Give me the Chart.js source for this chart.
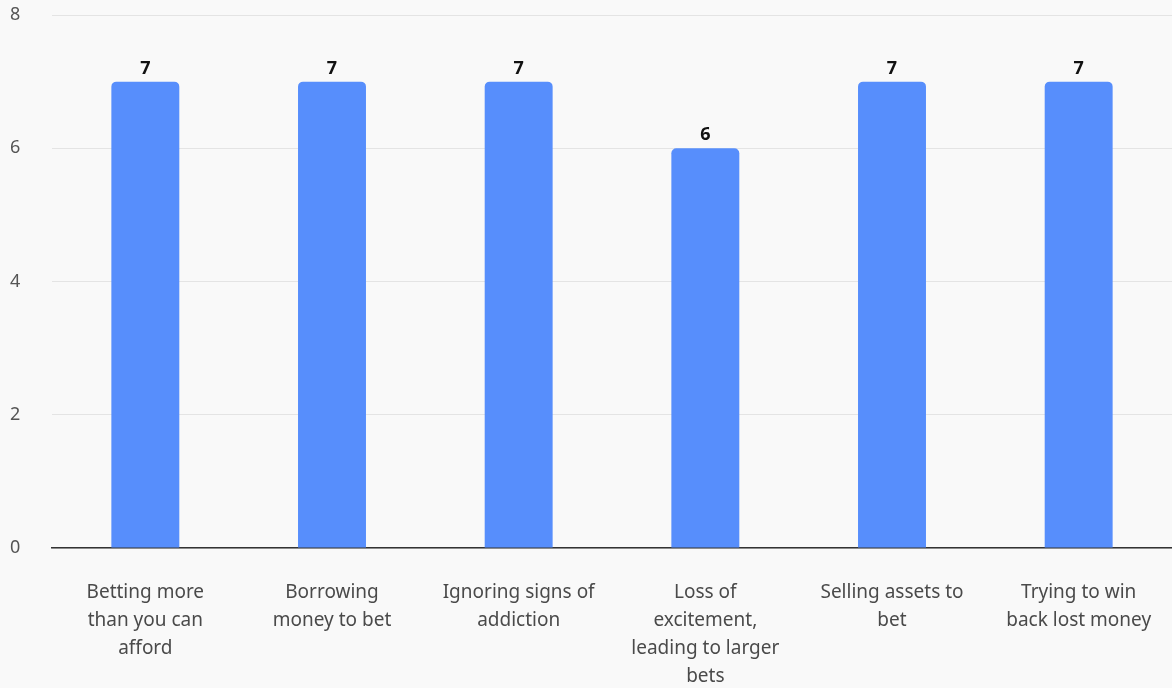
<!DOCTYPE html>
<html>
<head>
<meta charset="utf-8">
<script src="https://cdn.jsdelivr.net/npm/chart.js@4/dist/chart.umd.min.js"></script>
<style>
  html, body { margin: 0; padding: 0; background: #f9f9f9; }
  #wrap { width: 1172px; height: 688px; position: relative; }
</style>
</head>
<body>
<div id="wrap"><canvas id="c" width="1172" height="688"></canvas></div>
<script>
const categories = [
  ["Betting more", "than you can", "afford"],
  ["Borrowing", "money to bet"],
  ["Ignoring signs of", "addiction"],
  ["Loss of", "excitement,", "leading to larger", "bets"],
  ["Selling assets to", "bet"],
  ["Trying to win", "back lost money"]
];
const values = [7, 7, 7, 6, 7, 7];
const yTicks = [0, 2, 4, 6, 8];

const FONT = "'Source Sans Pro', 'Noto Sans', sans-serif";

const valueLabels = {
  id: 'valueLabels',
  afterDatasetsDraw(chart) {
    const ctx = chart.ctx;
    const meta = chart.getDatasetMeta(0);
    ctx.save();
    ctx.font = "bold 18px " + FONT;
    ctx.fillStyle = '#111';
    ctx.textAlign = 'center';
    ctx.textBaseline = 'bottom';
    meta.data.forEach((bar, i) => {
      ctx.fillText(String(values[i]), bar.x, bar.y - 4);
    });
    ctx.restore();
  }
};

new Chart(document.getElementById('c'), {
  type: 'bar',
  data: {
    labels: categories,
    datasets: [{
      data: values,
      backgroundColor: '#578efc',
      borderRadius: { topLeft: 5, topRight: 5, bottomLeft: 0, bottomRight: 0 },
      borderSkipped: 'bottom',
      barPercentage: 0.364,
      categoryPercentage: 1.0
    }]
  },
  options: {
    responsive: false,
    animation: false,
    layout: { padding: { left: 10, top: 15, right: 0, bottom: 0 } },
    plugins: { legend: { display: false }, tooltip: { enabled: false } },
    scales: {
      x: {
        grid: { display: false, drawTicks: false },
        border: { display: true, color: '#333', width: 1.5 },
        ticks: {
          font: { family: FONT, size: 19, lineHeight: 1.47 },
          color: '#4a4a4a',
          padding: 31,
          maxRotation: 0,
          autoSkip: false
        },
        afterFit(scale) { scale.height = 140; scale.paddingRight = 0; scale.paddingLeft = 0; }
      },
      y: {
        min: 0, max: 8,
        afterBuildTicks(scale) { scale.ticks = yTicks.map(v => ({ value: v })); },
        grid: { color: '#e4e4e4', drawTicks: false, lineWidth: 1 },
        border: { display: false },
        ticks: {
          font: { family: FONT, size: 18 },
          color: '#555',
          crossAlign: 'far',
          padding: 0
        },
        afterFit(scale) { scale.width = 42; }
      }
    }
  },
  plugins: [valueLabels]
});
</script>
</body>
</html>
